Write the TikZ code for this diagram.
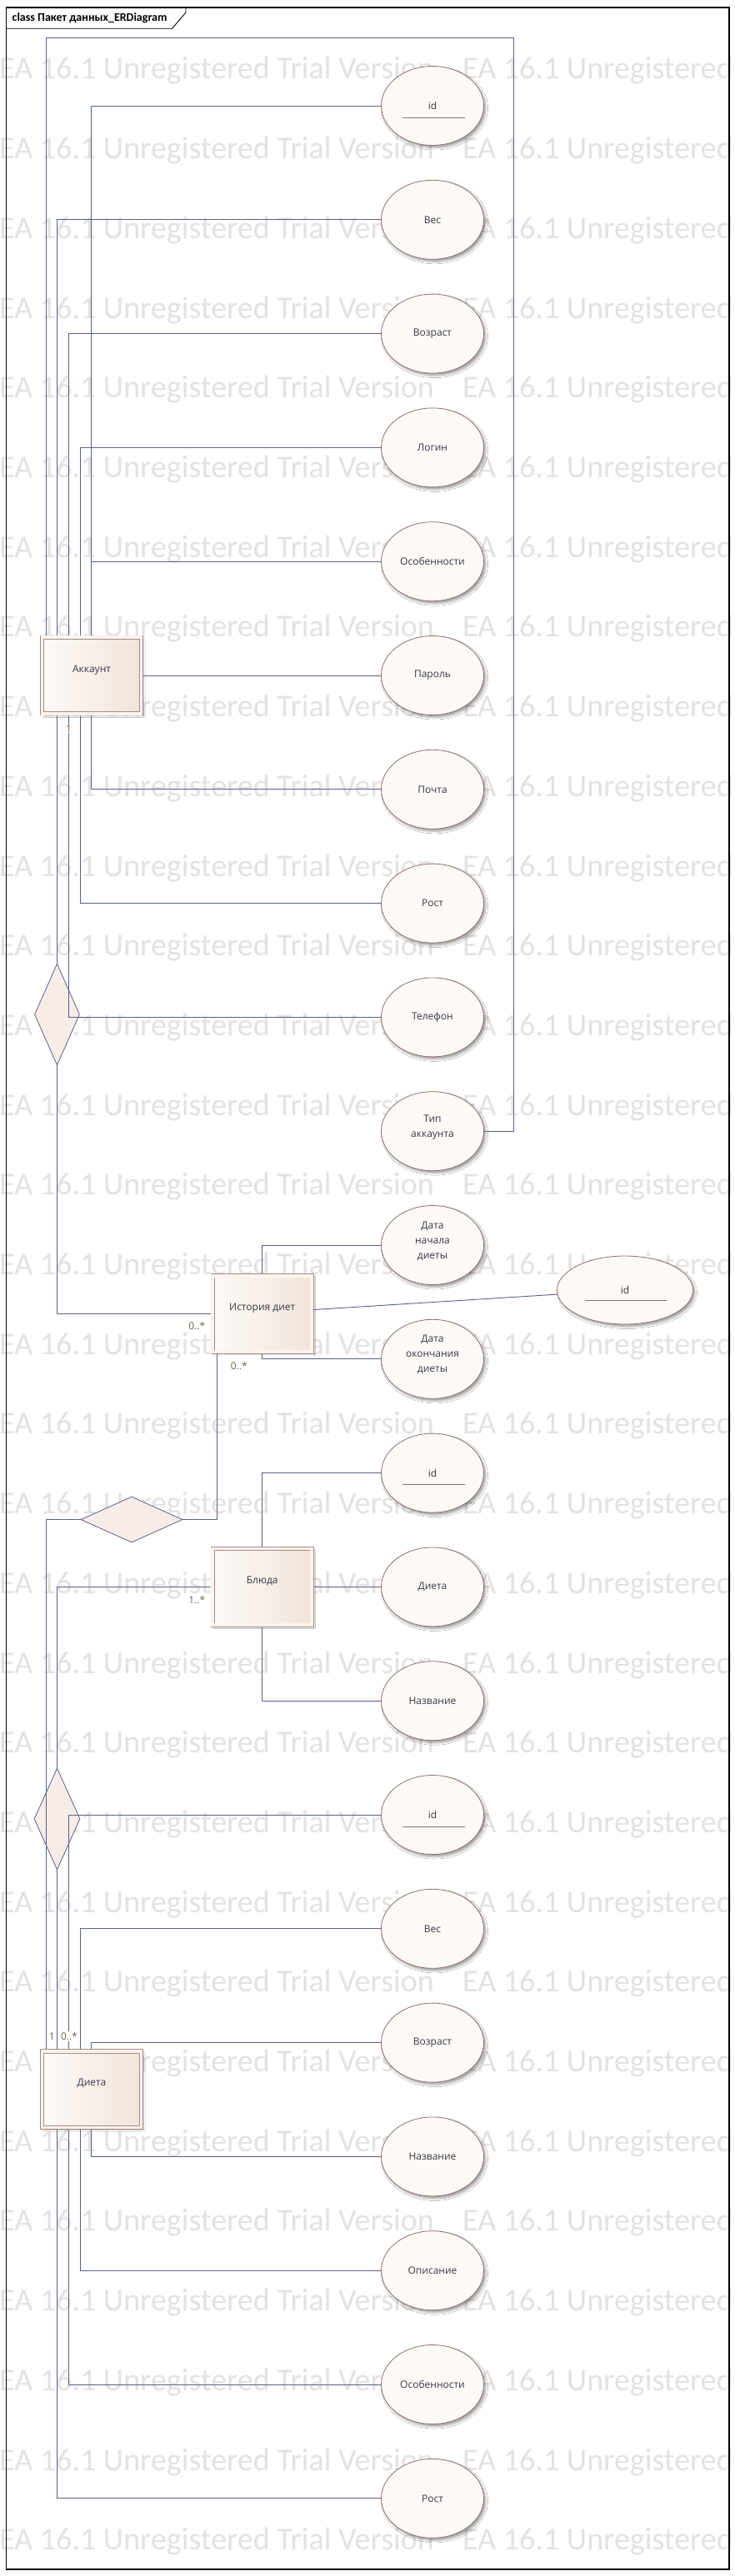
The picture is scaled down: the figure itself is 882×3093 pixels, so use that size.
\documentclass[tikz,border=0pt]{standalone}
\usepackage{fontspec}
\setmainfont{Open Sans}
\newfontfamily\calfont{Carlito}
\usetikzlibrary{shapes.geometric,shadows.blur}

\definecolor{linkcol}{RGB}{86,97,140}
\definecolor{attrline}{RGB}{140,112,112}
\definecolor{attrfill}{RGB}{253,249,247}
\definecolor{entline}{RGB}{165,140,134}
\definecolor{entgap}{RGB}{251,243,238}
\definecolor{entleft}{RGB}{253,250,247}
\definecolor{entright}{RGB}{242,228,218}
\definecolor{relfill}{RGB}{248,236,231}
\definecolor{wmcol}{RGB}{229,225,225}
\definecolor{multcol}{RGB}{112,92,72}
\definecolor{txtcol}{RGB}{55,55,70}

\newcommand{\wmtext}{\makebox[556pt][l]{EA 16.1 Unregistered Trial Version}EA 16.1 Unregistered Trial Version}

\tikzset{
  attr/.style={ellipse, draw=attrline, fill=attrfill, line width=0.8pt,
    minimum width=123, minimum height=95, inner sep=0pt, text=txtcol,
    font=\fontsize{12}{18}\selectfont,
    blur shadow={shadow xshift=2.5pt, shadow yshift=-3pt, shadow blur radius=2.5pt, shadow opacity=35}},
  attrtxt/.style={anchor=north, yshift=5pt, align=center, inner sep=0pt,
    text=txtcol, font=\fontsize{12}{18}\selectfont},
  keyline/.style={draw=attrline, line width=0.8pt},
  entity/.style={rectangle, draw=entline, double=entgap, double distance=3.6pt,
    line width=0.8pt, left color=entleft, right color=entright,
    minimum width=119, minimum height=91.5, inner sep=0pt, outer sep=2.6pt,
    text height=9pt, text depth=17pt, text=txtcol, font=\fontsize{12}{14}\selectfont,
    blur shadow={shadow xshift=2.5pt, shadow yshift=-2.5pt, shadow blur radius=2pt, shadow opacity=30}},
  rel/.style={diamond, draw=linkcol, fill=relfill, line width=0.8pt, inner sep=0pt},
  link/.style={draw=linkcol, line width=0.9pt},
  mult/.style={text=multcol, font=\fontsize{12}{14}\selectfont, inner sep=1pt},
  wm/.style={anchor=base west, text=wmcol, inner sep=0pt,
    font=\calfont\fontsize{38}{40}\selectfont}
}

\begin{document}
\begin{tikzpicture}[x=1pt,y=-1pt]
\useasboundingbox [fill=white] (0,0) rectangle (882,3093);
\node [wm] (wm0) at (-1,95) {\wmtext};
\node [wm] (wm1) at (-1,190.7) {\wmtext};
\node [wm] (wm2) at (-1,286.4) {\wmtext};
\node [wm] (wm3) at (-1,382.1) {\wmtext};
\node [wm] (wm4) at (-1,477.8) {\wmtext};
\node [wm] (wm5) at (-1,573.5) {\wmtext};
\node [wm] (wm6) at (-1,669.2) {\wmtext};
\node [wm] (wm7) at (-1,764.9) {\wmtext};
\node [wm] (wm8) at (-1,860.6) {\wmtext};
\node [wm] (wm9) at (-1,956.3) {\wmtext};
\node [wm] (wm10) at (-1,1052) {\wmtext};
\node [wm] (wm11) at (-1,1147.7) {\wmtext};
\node [wm] (wm12) at (-1,1243.4) {\wmtext};
\node [wm] (wm13) at (-1,1339.1) {\wmtext};
\node [wm] (wm14) at (-1,1434.8) {\wmtext};
\node [wm] (wm15) at (-1,1530.5) {\wmtext};
\node [wm] (wm16) at (-1,1626.2) {\wmtext};
\node [wm] (wm17) at (-1,1721.9) {\wmtext};
\node [wm] (wm18) at (-1,1817.6) {\wmtext};
\node [wm] (wm19) at (-1,1913.3) {\wmtext};
\node [wm] (wm20) at (-1,2009) {\wmtext};
\node [wm] (wm21) at (-1,2104.7) {\wmtext};
\node [wm] (wm22) at (-1,2200.4) {\wmtext};
\node [wm] (wm23) at (-1,2296.1) {\wmtext};
\node [wm] (wm24) at (-1,2391.8) {\wmtext};
\node [wm] (wm25) at (-1,2487.5) {\wmtext};
\node [wm] (wm26) at (-1,2583.2) {\wmtext};
\node [wm] (wm27) at (-1,2678.9) {\wmtext};
\node [wm] (wm28) at (-1,2774.6) {\wmtext};
\node [wm] (wm29) at (-1,2870.3) {\wmtext};
\node [wm] (wm30) at (-1,2966) {\wmtext};
\node [wm] (wm31) at (-1,3061.7) {\wmtext};

\draw [black, line width=1.1pt] (7.5,9) rectangle (875,3085);
\draw [black, line width=0.9pt] (7.5,34.3) -- (206.5,34.3) -- (223,15) -- (223,9);
\node [anchor=west, inner sep=0pt, font=\calfont\bfseries\fontsize{14}{16}\selectfont] (title) at (14.5,21.5) {class Пакет данных\_ERDiagram};

\node [entity] (akk) at (110,811) {Аккаунт};
\node [entity] (ist) at (314.7,1577.5) {История диет};
\node [entity] (blu) at (314.7,1905.4) {Блюда};
\node [entity] (diet) at (110,2508.7) {Диета};

\node [rel, minimum width=54, minimum height=122] (dia1) at (68.5,1218) {};
\node [rel, minimum width=122, minimum height=55] (dia2) at (158,1824.5) {};
\node [rel, minimum width=55, minimum height=122] (dia3) at (68.5,2184) {};

\node [attr] (aId) at (519,127) {id};
\draw [keyline] ([xshift=-36pt,yshift=-14pt]aId.center) -- ([xshift=39pt,yshift=-14pt]aId.center);
\node [attr] (aVes) at (519,263.8) {Вес};
\node [attr] (aVoz) at (519,400.6) {Возраст};
\node [attr] (aLog) at (519,537.4) {Логин};
\node [attr] (aOsob) at (519,674.2) {Особенности};
\node [attr] (aPar) at (519,811) {Пароль};
\node [attr] (aPoch) at (519,947.8) {Почта};
\node [attr] (aRost) at (519,1084.6) {Рост};
\node [attr] (aTel) at (519,1221.4) {Телефон};
\node [attr, label={[attrtxt]center:Тип\\аккаунта}] (aTip) at (519,1358.2) {};
\node [attr, label={[attrtxt]center:Дата\\начала\\диеты}] (iStart) at (519,1495) {};
\node [attr, label={[attrtxt]center:Дата\\окончания\\диеты}] (iEnd) at (519,1631.8) {};
\node [attr, minimum width=163, minimum height=82] (iId) at (750,1549) {id};
\draw [keyline] ([xshift=-48pt,yshift=-12pt]iId.center) -- ([xshift=50pt,yshift=-12pt]iId.center);
\node [attr] (bId) at (519,1768.6) {id};
\draw [keyline] ([xshift=-36pt,yshift=-14pt]bId.center) -- ([xshift=39pt,yshift=-14pt]bId.center);
\node [attr] (bDieta) at (519,1905.4) {Диета};
\node [attr] (bNaz) at (519,2042.2) {Название};
\node [attr] (dId) at (519,2179) {id};
\draw [keyline] ([xshift=-36pt,yshift=-14pt]dId.center) -- ([xshift=39pt,yshift=-14pt]dId.center);
\node [attr] (dVes) at (519,2315.8) {Вес};
\node [attr] (dVoz) at (519,2452.6) {Возраст};
\node [attr] (dNaz) at (519,2589.4) {Название};
\node [attr] (dOpis) at (519,2726.2) {Описание};
\node [attr] (dOsob) at (519,2863) {Особенности};
\node [attr] (dRost) at (519,2999.8) {Рост};

\draw [link] (55.5,0 |- akk.north) |- (616,45.5) |- (aTip);
\draw [link] (109,0 |- akk.north) |- (aId);
\draw [link] (68.5,0 |- akk.north) |- (aVes);
\draw [link] (82.5,0 |- akk.north) |- (aVoz);
\draw [link] (96.5,0 |- akk.north) |- (aLog);
\draw [link] (109,0 |- akk.north) |- (aOsob);
\draw [link] (akk.east) -- (aPar);
\draw [link] (109,0 |- akk.south) |- (aPoch);
\draw [link] (96.5,0 |- akk.south) |- (aRost);
\draw [link] (82.5,0 |- akk.south) |- (aTel);
\draw [link] (68.5,0 |- akk.south) -- (dia1.north);
\draw [link] (dia1.south) |- (ist);
\draw [link] (ist.north) |- (iStart);
\draw [link] ([yshift=5pt]ist.east) -- (iId);
\draw [link] (ist.south) |- (iEnd);
\draw [link] (260.7,0 |- ist.south) |- (dia2.east);
\draw [link] (dia2.west) -| (55.5,0 |- diet.north);
\draw [link] (blu.north) |- (bId);
\draw [link] (blu.east) -- (bDieta);
\draw [link] (blu.south) |- (bNaz);
\draw [link] (blu.west) -| (dia3.north);
\draw [link] (dia3.south) -- (68.5,0 |- diet.north);
\draw [link] (82.5,0 |- diet.north) |- (dId);
\draw [link] (96.5,0 |- diet.north) |- (dVes);
\draw [link] (109,0 |- diet.north) |- (dVoz);
\draw [link] (109,0 |- diet.south) |- (dNaz);
\draw [link] (96.5,0 |- diet.south) |- (dOpis);
\draw [link] (82.5,0 |- diet.south) |- (dOsob);
\draw [link] (68.5,0 |- diet.south) |- (dRost);

\node [mult, fill=white] (m1) at (82.5,875) {1};
\node [mult] (m2) at (236.3,1592.4) {0..*};
\node [mult] (m3) at (286.7,1640) {0..*};
\node [mult] (m4) at (236.3,1921) {1..*};
\node [mult, fill=white] (m5) at (62.3,2445) {1};
\node [mult, fill=white] (m6) at (83,2445) {0..*};
\end{tikzpicture}
\end{document}
